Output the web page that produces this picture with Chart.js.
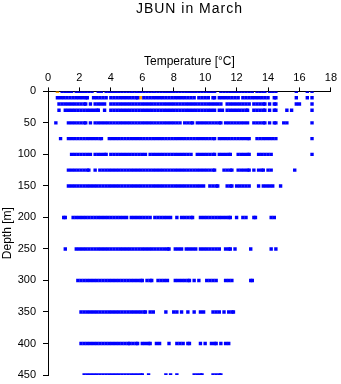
<!DOCTYPE html>
<html lang="en">
<head>
  <meta charset="UTF-8" />
  <title>JBUN in March</title>
  <style>
    html, body {
      margin: 0;
      padding: 0;
      background: #fff;
    }

    #wrap {
      width: 341px;
      height: 384px;
    }
  </style>
</head>
<body>

<div id="wrap">
  <canvas id="profileChart" width="341" height="384"></canvas>
</div>

<script src="https://cdn.jsdelivr.net/npm/chart.js"></script>

<script>
  // depths of the sampled levels [m]
  const depths = [0, 10, 20, 30, 50, 75, 100, 125, 150, 200, 250, 300, 350, 400, 450];

  // temperatures [°C] read at each depth level
  const temp0 = [0.9, 1.1, 1.3, 1.5, 1.8, 2.0, 2.2, 2.4, 2.6, 2.8, 3.2, 3.4, 3.7, 3.9, 4.1, 4.3, 4.5, 4.7, 4.9, 5.1, 5.3, 5.4, 5.6, 5.7, 5.9, 6.1, 6.3, 6.5, 6.7, 6.8, 7.0, 7.2, 7.4, 7.6, 7.8, 8.0, 8.2, 8.4, 8.6, 8.8, 9.0, 9.2, 9.4, 9.6, 9.8, 10.0, 10.2, 10.4, 10.6, 11.0, 11.2, 11.4, 11.6, 11.8, 12.0, 12.2, 12.4, 12.6, 12.8, 13.0, 13.3, 13.5, 13.7, 13.8, 14.1, 14.3, 14.5, 15.8, 16.5, 16.8];
  const temp10 = [0.6, 0.8, 1.0, 1.2, 1.4, 1.6, 1.8, 2.0, 2.2, 2.4, 2.5, 2.9, 3.1, 3.3, 3.5, 3.7, 4.0, 4.2, 4.4, 4.6, 4.8, 5.0, 5.2, 5.4, 5.6, 5.7, 6.1, 6.3, 6.5, 6.7, 6.9, 7.1, 7.3, 7.5, 7.7, 7.9, 8.1, 8.3, 8.5, 8.7, 8.9, 9.1, 9.3, 9.6, 9.8, 10.0, 10.2, 10.5, 10.6, 10.9, 11.1, 11.3, 11.5, 11.7, 11.9, 12.1, 12.4, 12.6, 12.8, 13.0, 13.2, 13.4, 13.6, 13.8, 14.0, 14.4, 14.5, 15.8, 16.5, 16.8];
  const temp20 = [0.7, 0.9, 1.1, 1.3, 1.5, 1.7, 1.9, 2.1, 2.3, 2.4, 2.7, 3.0, 3.2, 3.4, 3.6, 4.0, 4.2, 4.4, 4.6, 4.8, 5.0, 5.2, 5.4, 5.6, 5.8, 6.0, 6.2, 6.4, 6.6, 6.8, 7.0, 7.2, 7.4, 7.6, 7.8, 8.0, 8.2, 8.4, 8.6, 8.8, 9.0, 9.2, 9.4, 9.6, 9.8, 10.0, 10.2, 10.4, 10.6, 10.8, 11.0, 11.4, 11.6, 11.8, 12.0, 12.2, 12.4, 12.6, 12.8, 13.1, 13.3, 13.5, 13.7, 13.8, 14.1, 14.4, 14.5, 15.8, 16.0, 16.8];
  const temp30 = [0.7, 1.1, 1.3, 1.5, 1.7, 1.9, 2.1, 2.3, 2.5, 2.7, 2.9, 3.1, 3.2, 3.6, 4.0, 4.2, 4.4, 4.6, 4.8, 5.0, 5.2, 5.4, 5.6, 5.8, 6.0, 6.2, 6.4, 6.6, 6.8, 7.0, 7.2, 7.4, 7.6, 7.8, 8.0, 8.2, 8.4, 8.6, 8.8, 9.0, 9.2, 9.4, 9.6, 9.8, 10.0, 10.2, 10.4, 10.6, 10.9, 11.1, 11.4, 11.6, 11.8, 12.0, 12.2, 12.4, 12.6, 12.7, 13.1, 13.3, 13.5, 13.7, 13.8, 14.1, 14.4, 14.5, 15.2, 15.5, 16.8];
  const temp50 = [0.5, 1.3, 1.5, 1.7, 1.9, 2.1, 2.3, 2.4, 2.7, 3.0, 3.2, 3.4, 3.6, 3.8, 4.0, 4.2, 4.4, 4.6, 4.8, 5.0, 5.2, 5.4, 5.6, 5.8, 6.0, 6.2, 6.4, 6.6, 6.8, 7.0, 7.2, 7.4, 7.6, 7.8, 8.0, 8.2, 8.4, 8.7, 8.9, 9.1, 9.2, 9.5, 9.7, 9.9, 10.1, 10.3, 10.5, 10.7, 10.9, 11.0, 11.3, 11.5, 11.7, 11.9, 12.1, 12.3, 12.5, 12.7, 13.1, 13.3, 13.5, 13.7, 13.8, 14.1, 14.4, 14.5, 15.0, 15.2, 16.8];
  const temp75 = [0.8, 1.3, 1.5, 1.7, 1.9, 2.1, 2.3, 2.5, 2.7, 2.9, 3.1, 3.3, 3.4, 3.9, 4.1, 4.3, 4.5, 4.7, 4.9, 5.1, 5.3, 5.5, 5.7, 5.9, 6.1, 6.3, 6.5, 6.7, 6.9, 7.1, 7.3, 7.5, 7.7, 7.9, 8.1, 8.3, 8.5, 8.7, 8.9, 9.1, 9.3, 9.5, 9.7, 9.9, 10.1, 10.3, 10.5, 10.6, 10.9, 11.1, 11.3, 11.5, 11.7, 11.9, 12.1, 12.3, 12.5, 12.7, 12.8, 13.3, 13.5, 13.7, 13.9, 14.1, 14.3, 14.5, 16.8];
  const temp100 = [1.5, 1.7, 1.9, 2.1, 2.3, 2.5, 2.7, 3.0, 3.2, 3.4, 3.6, 3.7, 4.0, 4.2, 4.4, 4.6, 4.8, 5.0, 5.2, 5.4, 5.6, 5.8, 6.0, 6.2, 6.5, 6.7, 6.9, 7.1, 7.3, 7.5, 7.7, 7.9, 8.1, 8.3, 8.5, 8.7, 8.9, 9.1, 9.5, 9.7, 9.9, 10.1, 10.3, 10.5, 10.6, 10.9, 11.1, 11.3, 11.5, 11.6, 12.1, 12.3, 12.5, 12.7, 12.8, 13.4, 13.6, 13.8, 14.0, 14.2, 16.8];
  const temp125 = [1.3, 1.5, 1.7, 1.9, 2.1, 2.3, 2.5, 2.6, 3.0, 3.3, 3.5, 3.7, 3.9, 4.1, 4.3, 4.5, 4.7, 4.9, 5.1, 5.3, 5.5, 5.7, 5.9, 6.1, 6.3, 6.5, 6.7, 6.9, 7.1, 7.3, 7.5, 7.7, 7.9, 8.1, 8.3, 8.5, 8.7, 8.9, 9.1, 9.3, 9.5, 9.7, 9.9, 10.1, 10.3, 10.5, 10.6, 11.2, 11.4, 11.6, 11.7, 12.1, 12.3, 12.5, 12.7, 12.8, 13.1, 13.4, 13.6, 13.7, 14.0, 14.2, 15.7];
  const temp150 = [1.3, 1.5, 1.7, 1.9, 2.1, 2.3, 2.5, 2.7, 2.9, 3.1, 3.3, 3.5, 3.7, 3.9, 4.1, 4.3, 4.5, 4.7, 4.9, 5.1, 5.3, 5.5, 5.7, 5.9, 6.1, 6.3, 6.5, 6.7, 6.9, 7.1, 7.3, 7.5, 7.7, 7.9, 8.1, 8.3, 8.5, 8.7, 8.9, 9.1, 9.3, 9.5, 9.7, 9.9, 10.3, 10.5, 10.7, 10.8, 11.4, 11.6, 11.7, 12.0, 12.2, 12.4, 12.6, 12.8, 13.4, 13.7, 13.9, 14.1, 14.3, 14.8];
  const temp200 = [1.0, 1.1, 1.6, 1.8, 2.0, 2.2, 2.4, 2.6, 2.8, 3.0, 3.2, 3.4, 3.6, 3.8, 4.0, 4.2, 4.4, 4.6, 4.8, 5.0, 5.3, 5.5, 5.7, 5.9, 6.1, 6.3, 6.5, 6.8, 7.0, 7.2, 7.4, 7.6, 7.8, 8.2, 8.5, 8.7, 8.9, 9.1, 9.2, 9.7, 9.9, 10.1, 10.3, 10.5, 10.7, 10.9, 11.1, 11.3, 11.5, 11.6, 12.0, 12.4, 12.6, 13.1, 13.2, 14.2, 14.4];
  const temp250 = [1.1, 1.8, 2.0, 2.2, 2.4, 2.6, 2.8, 3.0, 3.2, 3.4, 3.6, 3.8, 4.0, 4.2, 4.4, 4.6, 4.8, 5.0, 5.2, 5.4, 5.6, 5.8, 6.0, 6.2, 6.4, 6.6, 6.8, 7.0, 7.2, 7.4, 7.6, 7.7, 8.1, 8.3, 8.5, 8.8, 9.0, 9.2, 9.4, 9.7, 9.9, 10.1, 10.3, 10.5, 10.7, 10.9, 11.3, 11.5, 11.6, 11.9, 12.9, 14.2, 14.5];
  const temp300 = [1.9, 2.1, 2.3, 2.5, 2.7, 2.9, 3.1, 3.3, 3.5, 3.7, 3.9, 4.1, 4.3, 4.5, 4.7, 4.9, 5.1, 5.3, 5.5, 5.7, 5.9, 6.0, 6.3, 6.5, 6.6, 7.0, 7.2, 7.4, 7.6, 8.1, 8.3, 8.5, 8.7, 8.9, 9.0, 9.3, 9.6, 10.1, 10.3, 10.5, 10.7, 11.3, 11.5, 11.7, 12.9, 13.0];
  const temp350 = [2.1, 2.3, 2.5, 2.7, 2.9, 3.1, 3.3, 3.5, 3.7, 3.9, 4.1, 4.3, 4.5, 4.7, 4.9, 5.1, 5.3, 5.5, 5.7, 5.9, 6.1, 6.2, 6.5, 6.7, 7.5, 8.0, 8.2, 8.5, 8.9, 9.3, 9.7, 9.9, 10.5, 10.7, 10.9, 11.2, 11.5, 11.7, 11.8];
  const temp400 = [2.1, 2.3, 2.5, 2.7, 2.9, 3.1, 3.3, 3.5, 3.7, 3.9, 4.1, 4.3, 4.5, 4.7, 4.9, 5.1, 5.2, 5.4, 5.6, 5.7, 6.0, 6.2, 6.4, 6.5, 6.9, 7.1, 7.7, 8.2, 8.4, 8.6, 8.9, 9.0, 9.7, 10.0, 10.4, 10.6, 10.7, 11.0, 11.3, 11.5];
  const temp450 = [2.3, 2.5, 2.7, 2.9, 3.1, 3.3, 3.5, 3.7, 3.9, 4.1, 4.3, 4.5, 4.7, 4.9, 5.1, 5.3, 5.5, 5.7, 5.9, 6.0, 6.4, 7.5, 7.8, 8.2, 9.3, 9.5, 9.7, 9.8, 10.5, 10.7, 10.9, 11.0];

  // the two highlighted (orange) samples
  const hiTemps = [0.6, 5.9];
  const hiDepths = [0, 10];

  const rows = [temp0, temp10, temp20, temp30, temp50, temp75, temp100, temp125,
                temp150, temp200, temp250, temp300, temp350, temp400, temp450];

  const bluePoints = [];
  rows.forEach((temps, i) => {
    temps.forEach(t => bluePoints.push({ x: t, y: depths[i] }));
  });
  const orangePoints = hiTemps.map((t, i) => ({ x: t, y: hiDepths[i] }));

  const FONT = '"Liberation Sans", Arial, sans-serif';

  // title is centred over the plot area, not the whole canvas
  const titlePlugin = {
    id: 'plotTitle',
    afterDraw(chart) {
      const ctx = chart.ctx;
      const area = chart.chartArea;
      ctx.save();
      ctx.font = '14px ' + FONT;
      ctx.letterSpacing = '1px';
      ctx.fillStyle = '#000';
      ctx.textAlign = 'center';
      ctx.textBaseline = 'middle';
      ctx.fillText('JBUN in March', (area.left + area.right) / 2, 9);
      ctx.restore();
    }
  };

  const axisGrid = {
    drawOnChartArea: false,
    drawTicks: true,
    tickLength: 4,
    color: '#000'
  };

  new Chart(document.getElementById('profileChart'), {
    type: 'scatter',
    data: {
      datasets: [
        {
          data: bluePoints,
          backgroundColor: '#0000ff',
          borderWidth: 0,
          pointStyle: 'rect',
          pointRadius: 2.4
        },
        {
          data: orangePoints,
          backgroundColor: '#ffa500',
          borderWidth: 0,
          pointStyle: 'rect',
          pointRadius: 2.4
        }
      ]
    },
    options: {
      responsive: false,
      animation: false,
      layout: {
        padding: { top: 54, right: 9, bottom: 0, left: 0 }
      },
      plugins: {
        legend: { display: false },
        tooltip: { enabled: false }
      },
      scales: {
        x: {
          type: 'linear',
          position: 'top',
          min: 0,
          max: 18,
          grid: axisGrid,
          border: { color: '#000', width: 1 },
          ticks: {
            stepSize: 2,
            color: '#000',
            padding: 4,
            maxRotation: 0,
            font: { family: FONT, size: 11, lineHeight: 1 }
          },
          title: {
            display: true,
            text: 'Temperature [°C]',
            color: '#000',
            padding: 0,
            font: { family: FONT, size: 12 }
          }
        },
        y: {
          type: 'linear',
          reverse: true,
          min: 0,
          max: 450,
          afterFit(scale) {
            scale.width = 48;
            scale.paddingBottom = 9;
          },
          grid: {
            drawOnChartArea: false,
            drawTicks: true,
            tickLength: 5,
            color: '#000'
          },
          border: { color: '#000', width: 1 },
          ticks: {
            stepSize: 50,
            color: '#000',
            padding: 7,
            font: { family: FONT, size: 11 }
          },
          title: {
            display: true,
            text: 'Depth [m]',
            color: '#000',
            padding: { top: 0, bottom: 0 },
            font: { family: FONT, size: 12 }
          }
        }
      }
    },
    plugins: [titlePlugin]
  });
</script>

</body>
</html>
